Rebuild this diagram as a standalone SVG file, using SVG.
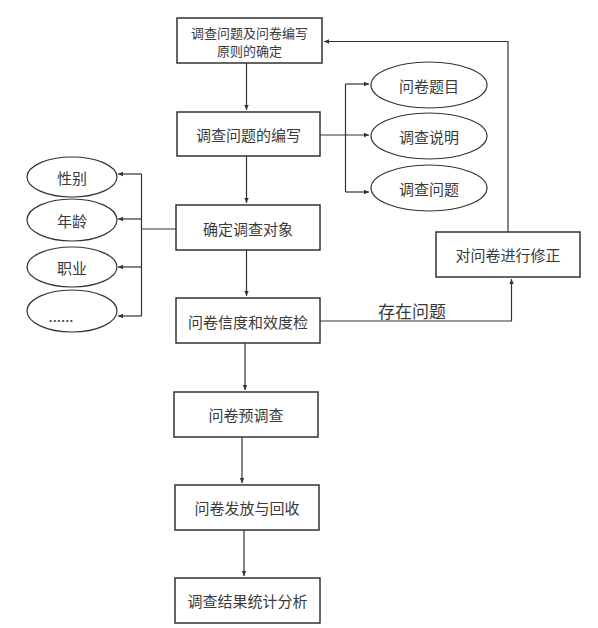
<svg xmlns="http://www.w3.org/2000/svg" width="598" height="628" viewBox="0 0 598 628">
<defs>
<marker id="ah" markerWidth="6" markerHeight="6" refX="5" refY="3" orient="auto" markerUnits="userSpaceOnUse">
<path d="M0,0.8 L5,3 L0,5.2 Z" fill="#333"/>
</marker>
</defs>
<style>
.box{fill:#fff;stroke:#333;stroke-width:1.5}
.ell{fill:#fff;stroke:#333;stroke-width:1.2}
.t{font-family:"Noto Sans CJK SC","Liberation Sans",sans-serif;font-size:15px;fill:#3a3a3a;text-anchor:middle;dominant-baseline:central}
.s{font-size:13px}
.c{fill:none;stroke:#333;stroke-width:1.2}
</style>
<rect width="598" height="628" fill="#fff"/>
<g id="connectors">
<path class="c" d="M246.5,63 V110" marker-end="url(#ah)"/>
<path class="c" d="M246.5,156 V203" marker-end="url(#ah)"/>
<path class="c" d="M246.5,250 V296" marker-end="url(#ah)"/>
<path class="c" d="M245,343 V390" marker-end="url(#ah)"/>
<path class="c" d="M242,437 V483" marker-end="url(#ah)"/>
<path class="c" d="M244,530 V576" marker-end="url(#ah)"/>
<path class="c" d="M320,135 H369" marker-end="url(#ah)"/>
<path class="c" d="M345.5,192 V84"/>
<path class="c" d="M345.5,84 H369" marker-end="url(#ah)"/>
<path class="c" d="M345.5,192 H369" marker-end="url(#ah)"/>
<path class="c" d="M176,229 H141.5"/>
<path class="c" d="M141.5,174 V316"/>
<path class="c" d="M141.5,174 H118" marker-end="url(#ah)"/>
<path class="c" d="M141.5,219 H118" marker-end="url(#ah)"/>
<path class="c" d="M141.5,267 H118" marker-end="url(#ah)"/>
<path class="c" d="M141.5,316 H118" marker-end="url(#ah)"/>
<path class="c" d="M320,321 H511.5 V279" marker-end="url(#ah)"/>
<path class="c" d="M508,232 V41.5 H324" marker-end="url(#ah)"/>
<text class="t" x="412" y="310" style="font-size:17px">存在问题</text>
</g>
<g id="n1"><rect class="box" x="177" y="18" width="145" height="45"/><text class="t s" x="249.5" y="32">调查问题及问卷编写</text><text class="t s" x="249.5" y="50">原则的确定</text></g>
<g id="n2"><rect class="box" x="177" y="112" width="143" height="44"/><text class="t" x="248.5" y="134">调查问题的编写</text></g>
<g id="n3"><rect class="box" x="176" y="205" width="144" height="45"/><text class="t" x="248" y="228">确定调查对象</text></g>
<g id="n4"><rect class="box" x="176" y="298" width="144" height="45"/><text class="t" x="248" y="321">问卷信度和效度检</text></g>
<g id="n5"><rect class="box" x="174" y="392" width="144" height="45"/><text class="t" x="246" y="414">问卷预调查</text></g>
<g id="n6"><rect class="box" x="175" y="485" width="144" height="45"/><text class="t" x="247" y="507">问卷发放与回收</text></g>
<g id="n7"><rect class="box" x="175" y="578" width="145" height="45"/><text class="t" x="247.5" y="600">调查结果统计分析</text></g>
<g id="n8"><rect class="box" x="436" y="232" width="144" height="45"/><text class="t" x="508" y="254">对问卷进行修正</text></g>
<g id="e1"><ellipse class="ell" cx="429" cy="85" rx="58" ry="23"/><text class="t" x="429" y="85">问卷题目</text></g>
<g id="e2"><ellipse class="ell" cx="429" cy="136" rx="58" ry="23"/><text class="t" x="429" y="136">调查说明</text></g>
<g id="e3"><ellipse class="ell" cx="429" cy="188" rx="58" ry="23"/><text class="t" x="429" y="188">调查问题</text></g>
<g id="e4"><ellipse class="ell" cx="72" cy="177" rx="45" ry="20"/><text class="t" x="72" y="177">性别</text></g>
<g id="e5"><ellipse class="ell" cx="72" cy="220" rx="45" ry="21"/><text class="t" x="72" y="220">年龄</text></g>
<g id="e6"><ellipse class="ell" cx="72" cy="267" rx="45" ry="20"/><text class="t" x="72" y="267">职业</text></g>
<g id="e7"><ellipse class="ell" cx="72" cy="311" rx="45" ry="21"/><text class="t" x="61" y="315">......</text></g>
</svg>
